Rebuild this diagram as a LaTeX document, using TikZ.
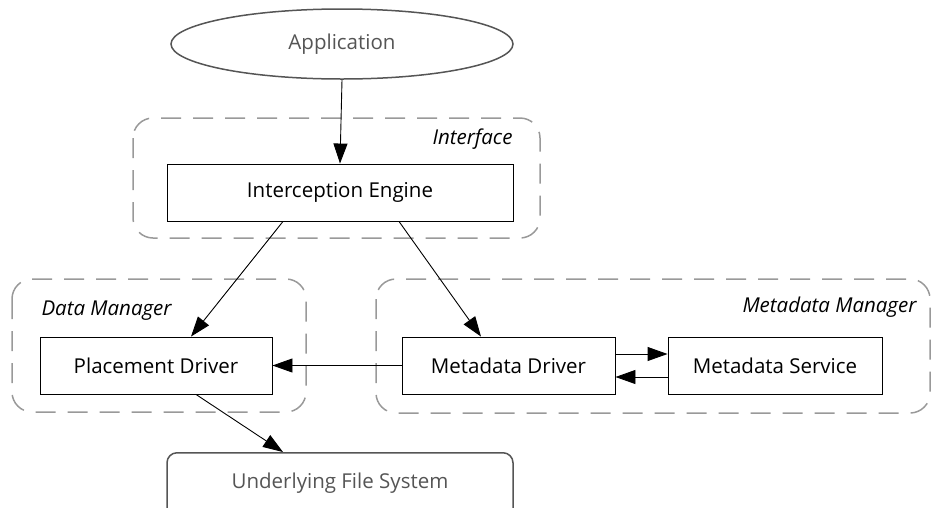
\documentclass[tikz,border=0pt]{standalone}
\usepackage{fontspec}
\setmainfont{Open Sans}
\usetikzlibrary{arrows.meta,shapes.geometric}
\definecolor{grp}{HTML}{999999}
\definecolor{dg}{HTML}{555555}
\tikzset{
  x=1pt,y=-1pt,
  every node/.style={font=\fontsize{20.5}{24}\selectfont},
  box/.style={draw=black,line width=0.9pt,inner sep=0pt},
  group/.style={draw=grp,line width=1.5pt,dash pattern=on 20pt off 12pt,rounded corners=20pt},
  glabel/.style={font=\fontsize{20.5}{24}\selectfont\itshape},
  arr/.style={-{Triangle[length=20pt,width=14pt]},line width=0.9pt},
}
\begin{document}
\begin{tikzpicture}
\useasboundingbox (0,0) rectangle (934,507);
% groups
\draw[group] (133,118) rectangle (540,238);
\draw[group] (12,279) rectangle (306,412);
\draw[group] (376,279) rectangle (930,413);
\node[glabel,anchor=east] (lif) at (516,139) {Interface};
\node[glabel,anchor=west] (ldm) at (38,311) {Data Manager};
\node[glabel,anchor=east] (lmm) at (920,307) {Metadata Manager};
% nodes
\node[draw=dg,line width=1.5pt,ellipse,minimum width=342pt,minimum height=70pt,text=dg,inner sep=0pt] (app) at (342,44) {Application};
\node[box,minimum width=346pt,minimum height=57pt] (ie) at (340,192.5) {Interception Engine};
\node[box,minimum width=232pt,minimum height=57pt] (pd) at (156,365.5) {Placement Driver};
\node[box,minimum width=213pt,minimum height=57pt] (md) at (508.5,365.5) {Metadata Driver};
\node[box,minimum width=214pt,minimum height=57pt] (ms) at (775,365.5) {Metadata Service};
\node[draw=dg,line width=1.5pt,rounded corners=10pt,minimum width=346pt,minimum height=70pt,anchor=north,inner sep=0pt] (ufs) at (340,452) {};
\node[text=dg] (ufst) at (340,483) {Underlying File System};
% connectors
\draw[arr] (app.south) -- (ie.north);
\draw[arr] (ie.south -| 283,0) -- (pd.north -| 191,0);
\draw[arr] (ie.south -| 399,0) -- (md.north -| 481,0);
\draw[arr] (md.west) -- (pd.east);
\draw[arr] (md.east |- 0,354) -- (ms.west |- 0,354);
\draw[arr] (ms.west |- 0,377) -- (md.east |- 0,377);
\draw[arr] (pd.south -| 196,0) -- (ufs.north -| 283,0);
\end{tikzpicture}
\end{document}
